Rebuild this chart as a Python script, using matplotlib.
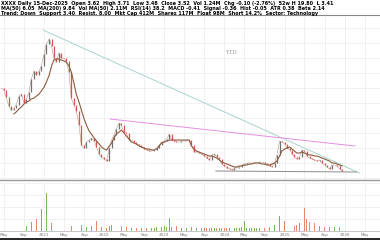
import numpy as np
import pandas as pd
import matplotlib
matplotlib.use('Agg')
import matplotlib.pyplot as plt
import matplotlib.dates as mdates
from matplotlib.ticker import MultipleLocator

# полумесячные точки (1-е и 15-е число), с апреля 2020 по декабрь 2025
dates = pd.date_range('2020-04-15', periods=137, freq='SMS')

close = [45, 44, 40.5, 36, 34, 35, 36.5, 41, 42, 37.5,
         39.5, 43, 49.5, 53.5, 51.5, 53.5, 56, 62, 67, 69.5,
         66, 60, 58, 62.5, 60, 60, 58.5, 53, 40, 36.5,
         33.5, 26.5, 16.5, 15, 18, 19, 20, 18.5, 15.5, 12,
         10.5, 9.5, 8.5, 15, 19, 21.5, 24.5, 27.5, 26.5, 23,
         22.5, 19, 19, 18, 17, 16.5, 15.5, 14.5, 14, 13.5,
         13.5, 14, 15, 16.5, 18, 18.5, 19.5, 22, 19, 18.5,
         18, 18, 18.5, 18.5, 18.5, 19, 16.5, 13, 13, 12.5,
         12, 11, 10, 9, 11.5, 12, 10.5, 9.5, 7, 6,
         5, 4.5, 4, 5, 5, 5.5, 6.5, 7, 7.5, 7.5,
         7.5, 7.5, 7.5, 8, 8, 7.5, 7, 6, 5.5, 7.5,
         11.5, 18.5, 18, 17, 15, 14, 12, 10.5, 9.5, 10.5,
         14, 13.5, 11, 10, 9.5, 9, 8.5, 9, 7.5, 6.5,
         5.5, 4.5, 6.5, 6.5, 6, 4.5, 3.5]

ma = [np.nan] * 5 + [
    32, 33, 34.5, 35.5, 37, 38, 38.5, 39.5, 40, 41,
    42, 43.5, 45.5, 48, 51.5, 56, 59, 59.5, 59.5, 59,
    58.5, 58, 56, 53, 47.5, 42, 38, 34, 29.5, 26.5,
    23.5, 22, 20, 18.5, 17, 15.5, 14.5, 14, 16, 17.5,
    20, 22, 23, 24, 22.5, 21, 19.5, 18, 17.5, 17,
    16, 15.5, 15, 14.5, 14.5, 14, 14, 14.5, 16, 17.5,
    18, 18.5, 19, 19, 19, 19, 19, 19, 19, 19,
    19, 16, 14.5, 13.5, 13, 12.5, 12, 11.5, 11, 11,
    10.5, 10, 9, 8, 7.5, 7, 6.5, 6, 5.5, 5.5,
    6, 6, 6.5, 6.5, 7, 7, 7.5, 7.5, 7.5, 7,
    7, 6.5, 6.5, 7, 7.5, 8.5, 11, 13.5, 14.5, 15,
    15.5, 14.5, 13.5, 12.5, 12.5, 13, 12.5, 12, 11.5, 11.5,
    11, 11, 10.5, 10, 9.5, 9, 8.5, 7.5, 7.5, 7,
    6.5, 6]

volume = [3, 4, 3, 3, 4, 3, 4, 5, 4, 4,
          5, 6, 9, 45, 12, 10, 22, 12, 38, 14,
          8, 7, 5, 5, 4, 4, 4, 5, 5, 4,
          4, 5, 6, 5, 4, 4, 5, 6, 10, 5,
          4, 4, 3, 5, 6, 5, 6, 7, 5, 4,
          4, 3, 3, 3, 3, 3, 3, 3, 3, 3,
          3, 3, 4, 10, 4, 5, 4, 13, 4, 4,
          5, 3, 3, 3, 3, 3, 4, 3, 3, 3,
          3, 3, 3, 3, 3, 3, 3, 3, 3, 3,
          3, 3, 3, 3, 3, 3, 4, 10, 3, 3,
          3, 3, 3, 3, 3, 3, 3, 4, 4, 6,
          12, 15, 18, 10, 8, 7, 5, 5, 6, 8,
          33, 23, 12, 9, 20, 8, 6, 5, 5, 4,
          5, 4, 5, 4, 4, 4, 3]

# линии тренда: (дата, цена) начала и конца
upper_line_dates = ['2020-12-26', '2026-04-01']
upper_line_prices = [74, 2.5]
mid_line_dates = ['2022-02-06', '2026-03-03']
mid_line_prices = [29.5, 16]
support_dates = ['2023-11-10', '2026-03-14']
support_prices = [3.5, 3]

header_lines = [
    'XXXX Daily 15-Dec-2025  Open 3.62  High 3.71  Low 3.48  Close 3.52  Vol 1.24M  Chg -0.10 (-2.76%)  52w H 19.80  L 3.41',
    'MA(50) 6.05  MA(200) 9.84  Vol MA(50) 2.11M  RSI(14) 38.2  MACD -0.41  Signal -0.36  Hist -0.05  ATR 0.38  Beta 2.14',
    'Trend: Down  Support 3.40  Resist. 8.00  Mkt Cap 412M  Shares 117M  Float 98M  Short 14.2%  Sector: Technology',
]

close = np.array(close)
volume = np.array(volume)
prev = np.concatenate([[close[0]], close[:-1]])
up = close >= prev

fig = plt.figure(figsize=(3.8, 2.4), dpi=100)

# заголовок с мелким текстом
for k, line in enumerate(header_lines):
    fig.text(0.003, 0.995 - k * 0.021, line, fontsize=3.5, color='black', va='top', ha='left',
             fontweight='bold')
fig.add_artist(plt.Line2D([0, 1], [0.937, 0.937], color='#888888', lw=0.8))

ax = fig.add_axes([0, 0.25, 1, 0.683])
vax = fig.add_axes([0, 0.0375, 1, 0.2], sharex=ax)

grid_color = '#ececec'
for a in (ax, vax):
    a.set_facecolor('white')
    a.grid(True, color=grid_color, lw=0.5)
    a.set_axisbelow(True)
    for s in ('top', 'left', 'right'):
        a.spines[s].set_visible(False)
    a.tick_params(length=0, labelleft=False)

ax.spines['bottom'].set_color('#999999')
ax.spines['bottom'].set_linewidth(1.0)
vax.spines['bottom'].set_color('#bbbbbb')
vax.spines['bottom'].set_linewidth(0.6)

# свечи (от предыдущего закрытия к текущему)
ax.plot(dates, close, color='#b89a90', lw=0.4, zorder=2)
ax.vlines(dates[up], prev[up], close[up], color='#707070', lw=0.9, zorder=3)
ax.vlines(dates[~up], prev[~up], close[~up], color='#d9534f', lw=0.9, zorder=3)
ax.plot(dates, ma, color='#8b5a3c', lw=0.8, zorder=4)

ax.plot(pd.to_datetime(upper_line_dates), upper_line_prices, color='#a9d3d0', lw=0.7, zorder=1)
ax.plot(pd.to_datetime(mid_line_dates), mid_line_prices, color='#e58fe0', lw=0.7, zorder=1)
ax.plot(pd.to_datetime(support_dates), support_prices, color='#8a8a8a', lw=0.7, zorder=1)

ax.text(0.608, 0.775, 'YTD', transform=ax.transAxes, fontsize=4, color='#999999',
        ha='center', va='center', family='DejaVu Serif')

ax.set_ylim(-1, 81)
ax.yaxis.set_major_locator(MultipleLocator(7.5))
ax.set_xlim(pd.Timestamp('2020-04-08'), pd.Timestamp('2026-08-03'))
ax.tick_params(labelbottom=False)

# объём
vcol = np.where(up, '#79b85a', '#e88a6a')
vax.bar(dates, volume, width=3, color=vcol, zorder=2)
vax.set_ylim(0, 48)
vax.yaxis.set_major_locator(MultipleLocator(12))

vax.xaxis.set_major_locator(mdates.MonthLocator(bymonth=[1, 5, 9]))
vax.xaxis.set_major_formatter(
    matplotlib.ticker.FuncFormatter(
        lambda v, _: mdates.num2date(v).strftime('%Y') if mdates.num2date(v).month == 1
        else mdates.num2date(v).strftime('%b')))
vax.tick_params(labelsize=3, labelcolor='#777777', pad=1.5)

fig.add_artist(plt.Line2D([0, 1], [0.004, 0.004], color='black', lw=1.2))

plt.savefig('out.png', dpi=100)
plt.close()
